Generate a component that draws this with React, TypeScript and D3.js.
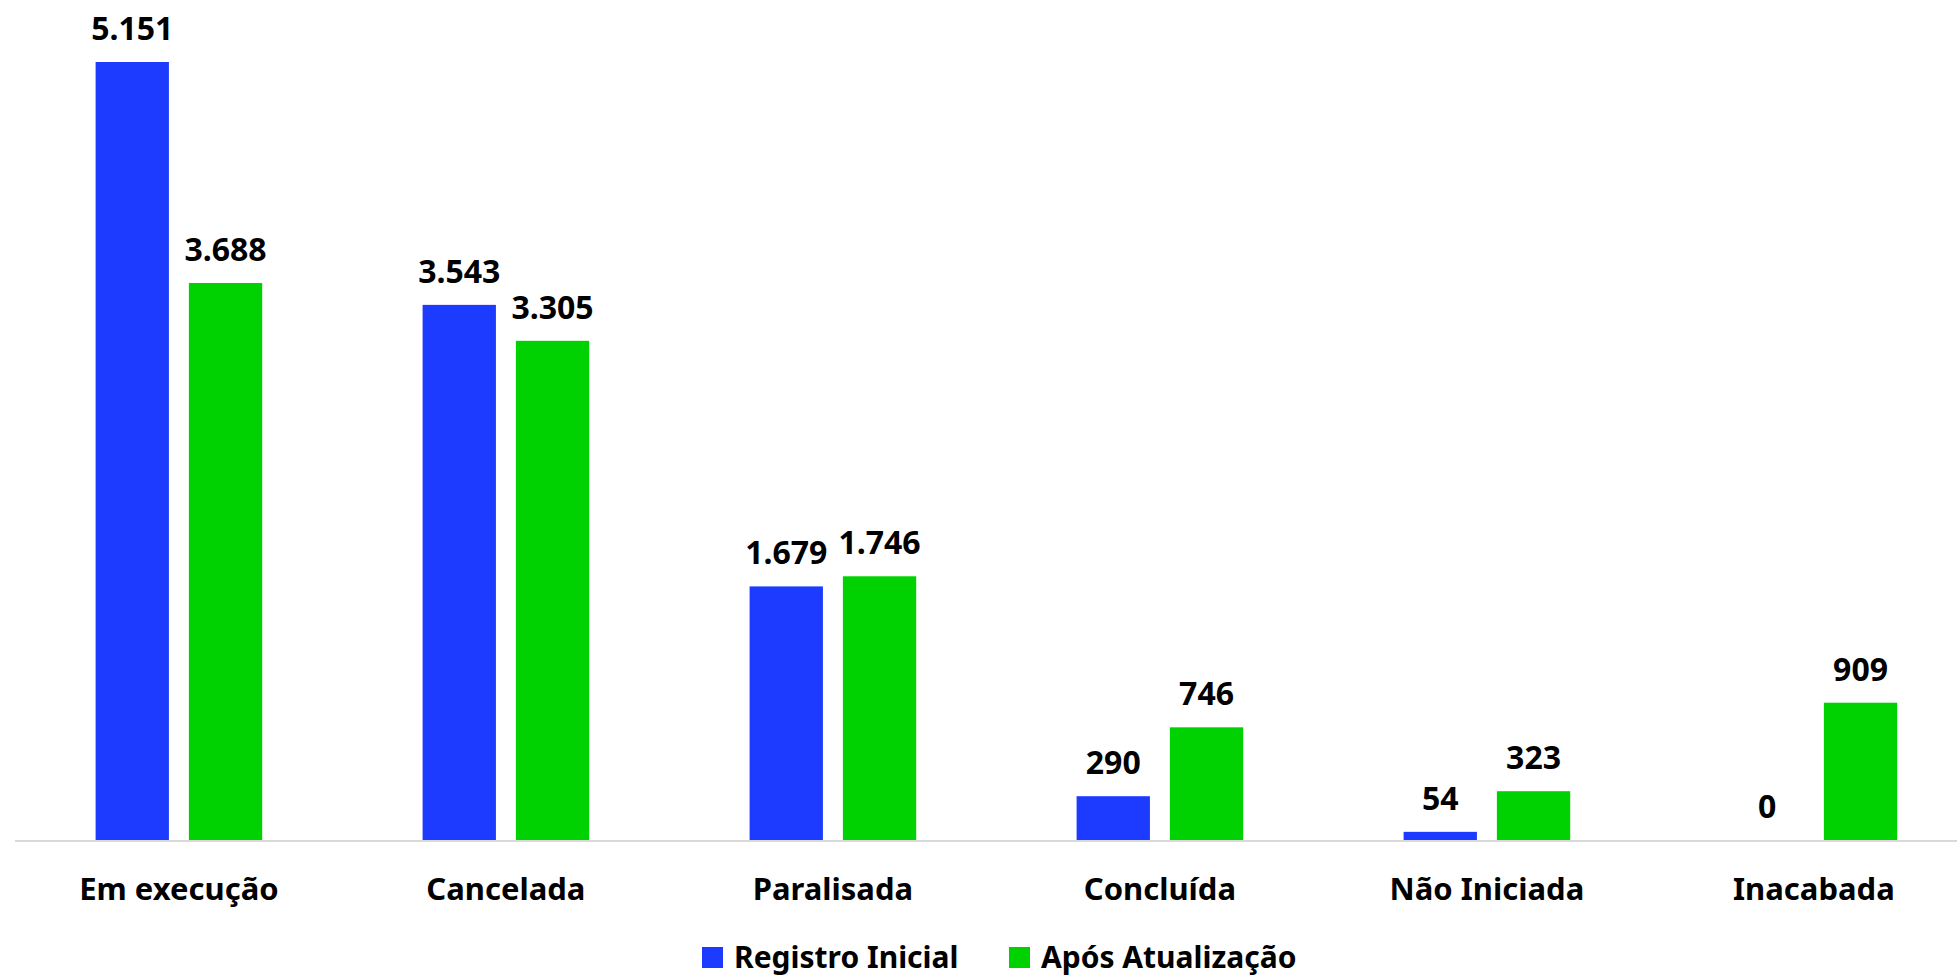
import { useEffect, useRef } from 'react'
import * as d3 from 'd3'

const categories = ['Em execução', 'Cancelada', 'Paralisada', 'Concluída', 'Não Iniciada', 'Inacabada']
const seriesNames = ['Registro Inicial', 'Após Atualização']
const registroInicial = [5151, 3543, 1679, 290, 54, 0]
const aposAtualizacao = [3688, 3305, 1746, 746, 323, 909]
const colors = ['#1D3BFF', '#00D100']

const WIDTH = 1957
const HEIGHT = 976
const FONT = '"Noto Sans", "Open Sans", sans-serif'

export default function App() {
  const svgRef = useRef<SVGSVGElement>(null)

  useEffect(() => {
    if (!svgRef.current) return
    const svg = d3.select(svgRef.current)
    svg.selectAll('*').remove()

    const baseY = 840
    const topY = 62

    const x0 = d3.scaleBand<string>().domain(categories).range([15.4, 1977.4]).padding(0)
    const groupW = 166.6
    const x1 = d3
      .scaleBand<string>()
      .domain(seriesNames)
      .range([x0.bandwidth() / 2 - groupW / 2, x0.bandwidth() / 2 + groupW / 2])
      .paddingInner(0.214)
      .paddingOuter(0)

    const y = d3
      .scaleLinear()
      .domain([0, d3.max(registroInicial) as number])
      .range([baseY, topY])

    const fmt = (v: number) => d3.format(',')(v).replace(/,/g, '.')

    const rows = categories.map((c, i) => ({
      cat: c,
      values: [registroInicial[i], aposAtualizacao[i]],
    }))

    const groups = svg
      .append('g')
      .selectAll('g')
      .data(rows)
      .join('g')
      .attr('transform', (d) => `translate(${x0(d.cat)},0)`)

    groups
      .selectAll('rect')
      .data((d) => d.values.map((v, j) => ({ v, s: seriesNames[j], j })))
      .join('rect')
      .attr('x', (d) => x1(d.s) as number)
      .attr('width', x1.bandwidth())
      .attr('y', (d) => y(d.v))
      .attr('height', (d) => baseY - y(d.v))
      .attr('fill', (d) => colors[d.j])

    groups
      .selectAll('text.val')
      .data((d) => d.values.map((v, j) => ({ v, s: seriesNames[j] })))
      .join('text')
      .attr('class', 'val')
      .attr('x', (d) => (x1(d.s) as number) + x1.bandwidth() / 2)
      .attr('y', (d) => y(d.v) - 22)
      .attr('text-anchor', 'middle')
      .attr('font-family', FONT)
      .attr('font-weight', 700)
      .attr('font-size', 32)
      .attr('fill', '#000')
      .text((d) => fmt(d.v))

    // baseline
    svg
      .append('line')
      .attr('x1', 15)
      .attr('x2', WIDTH)
      .attr('y1', baseY + 1)
      .attr('y2', baseY + 1)
      .attr('stroke', '#d9d9d9')
      .attr('stroke-width', 2)

    // category labels
    svg
      .append('g')
      .selectAll('text')
      .data(categories)
      .join('text')
      .attr('x', (d) => (x0(d) as number) + x0.bandwidth() / 2)
      .attr('y', 900)
      .attr('text-anchor', 'middle')
      .attr('font-family', FONT)
      .attr('font-weight', 700)
      .attr('font-size', 31)
      .attr('fill', '#000')
      .text((d) => d)

    // legend
    const legendX = [702, 1009]
    const legend = svg
      .append('g')
      .selectAll('g')
      .data(seriesNames)
      .join('g')
      .attr('transform', (_, i) => `translate(${legendX[i]},0)`)
    legend
      .append('rect')
      .attr('x', 0)
      .attr('y', 947)
      .attr('width', 21)
      .attr('height', 21)
      .attr('fill', (_, i) => colors[i])
    legend
      .append('text')
      .attr('x', 32)
      .attr('y', 968)
      .attr('font-family', FONT)
      .attr('font-weight', 700)
      .attr('font-size', 30)
      .attr('fill', '#000')
      .text((d) => d)
  }, [])

  return (
    <svg
      ref={svgRef}
      width={WIDTH}
      height={HEIGHT}
      style={{ position: 'absolute', left: 0, top: 0, background: '#fff', display: 'block' }}
    />
  )
}
